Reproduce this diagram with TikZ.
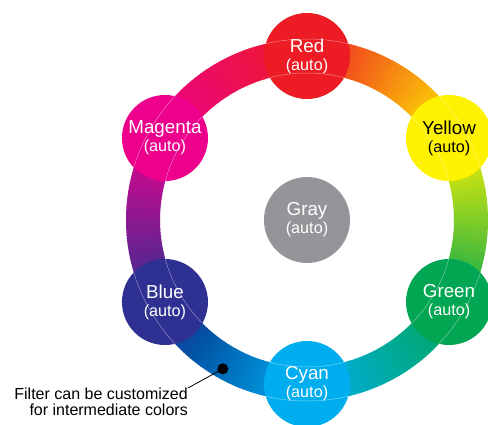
\documentclass[tikz,border=0pt]{standalone}
\usepackage{fontspec}
\setmainfont{Liberation Sans}
\usepackage{tikz}
\usetikzlibrary{positioning}
\definecolor{wheelred}{RGB}{237,28,36}
\definecolor{wheelyellow}{RGB}{255,242,0}
\definecolor{wheelgreen}{RGB}{0,166,81}
\definecolor{wheelcyan}{RGB}{0,174,239}
\definecolor{wheeldeep}{RGB}{0,84,166}
\definecolor{wheelblue}{RGB}{46,49,146}
\definecolor{wheelmagenta}{RGB}{236,0,140}
\definecolor{wheelgray}{RGB}{147,149,152}
\newcommand{\autolabel}{{\fontsize{16.2}{18}\selectfont (auto)}}
\tikzset{%
  hue/.style = {circle,fill=#1,minimum size=86pt,inner sep=0pt,
        text=white,align=center,font=\fontsize{18.8}{18}\selectfont},
  edgeline/.style = {white,opacity=0.45,line width=0.5pt},
  note/.style = {align=right,inner sep=0pt,font=\fontsize{16}{16}\selectfont},
  pin/.style = {circle,fill=black,minimum size=11pt,inner sep=0pt}
}

\begin{document}
\begin{tikzpicture}[x=1pt,y=1pt]
                \useasboundingbox (-307,-204) rectangle (181,220);
                % ring, blended from hue to hue
                \foreach \cfrom/\cto/\start/\steps in {wheelred/wheelyellow/90/60,
                    wheelyellow/wheelgreen/30/60, wheelgreen/wheelcyan/-30/60,
                    wheelcyan/wheeldeep/-90/40, wheeldeep/wheelblue/-130/20,
                    wheelblue/wheelmagenta/-150/60, wheelmagenta/wheelred/-210/60}{
                  \foreach \i in {1,...,\steps}{
                    \pgfmathtruncatemacro{\mix}{100*(\i-0.5)/\steps}
                    \pgfmathsetmacro{\angA}{\start-\i+1}
                    \pgfmathsetmacro{\angB}{\start-\i-0.3}
                    \fill[\cto!\mix!\cfrom] (\angA:181) arc[start angle=\angA, end angle=\angB, radius=181]
                        -- (\angB:147) arc[start angle=\angB, end angle=\angA, radius=147] -- cycle;
                  }
                }
                \node[hue=wheelred] (red) at (90:164) {Red\\\autolabel};
                \node[hue=wheelyellow, text=black] (yellow) at (30:164) {Yellow\\\autolabel};
                \node[hue=wheelgreen] (green) at (-30:164) {Green\\\autolabel};
                \node[hue=wheelcyan] (cyan) at (-90:164) {Cyan\\\autolabel};
                \node[hue=wheelblue] (blue) at (-150:164) {Blue\\\autolabel};
                \node[hue=wheelmagenta] (magenta) at (150:164) {Magenta\\\autolabel};
                \node[hue=wheelgray] (gray) at (0,0) {Gray\\\autolabel};
                % faint ring edges across the hue circles
                \foreach \hname in {red,yellow,green,cyan,blue,magenta}{
                  \begin{scope}
                    \clip (\hname) circle (43);
                    \draw[edgeline] (0,0) circle (147) (0,0) circle (181);
                  \end{scope}
                }
                \node[pin] (dot) at (240.5:171) {};
                \node[note, anchor=north east] (filter) at (-119,-168) {Filter can be customized\\for intermediate colors};
                \draw[line width=0.8pt] (dot.center) -- (filter.north east);
            \end{tikzpicture}
\end{document}
